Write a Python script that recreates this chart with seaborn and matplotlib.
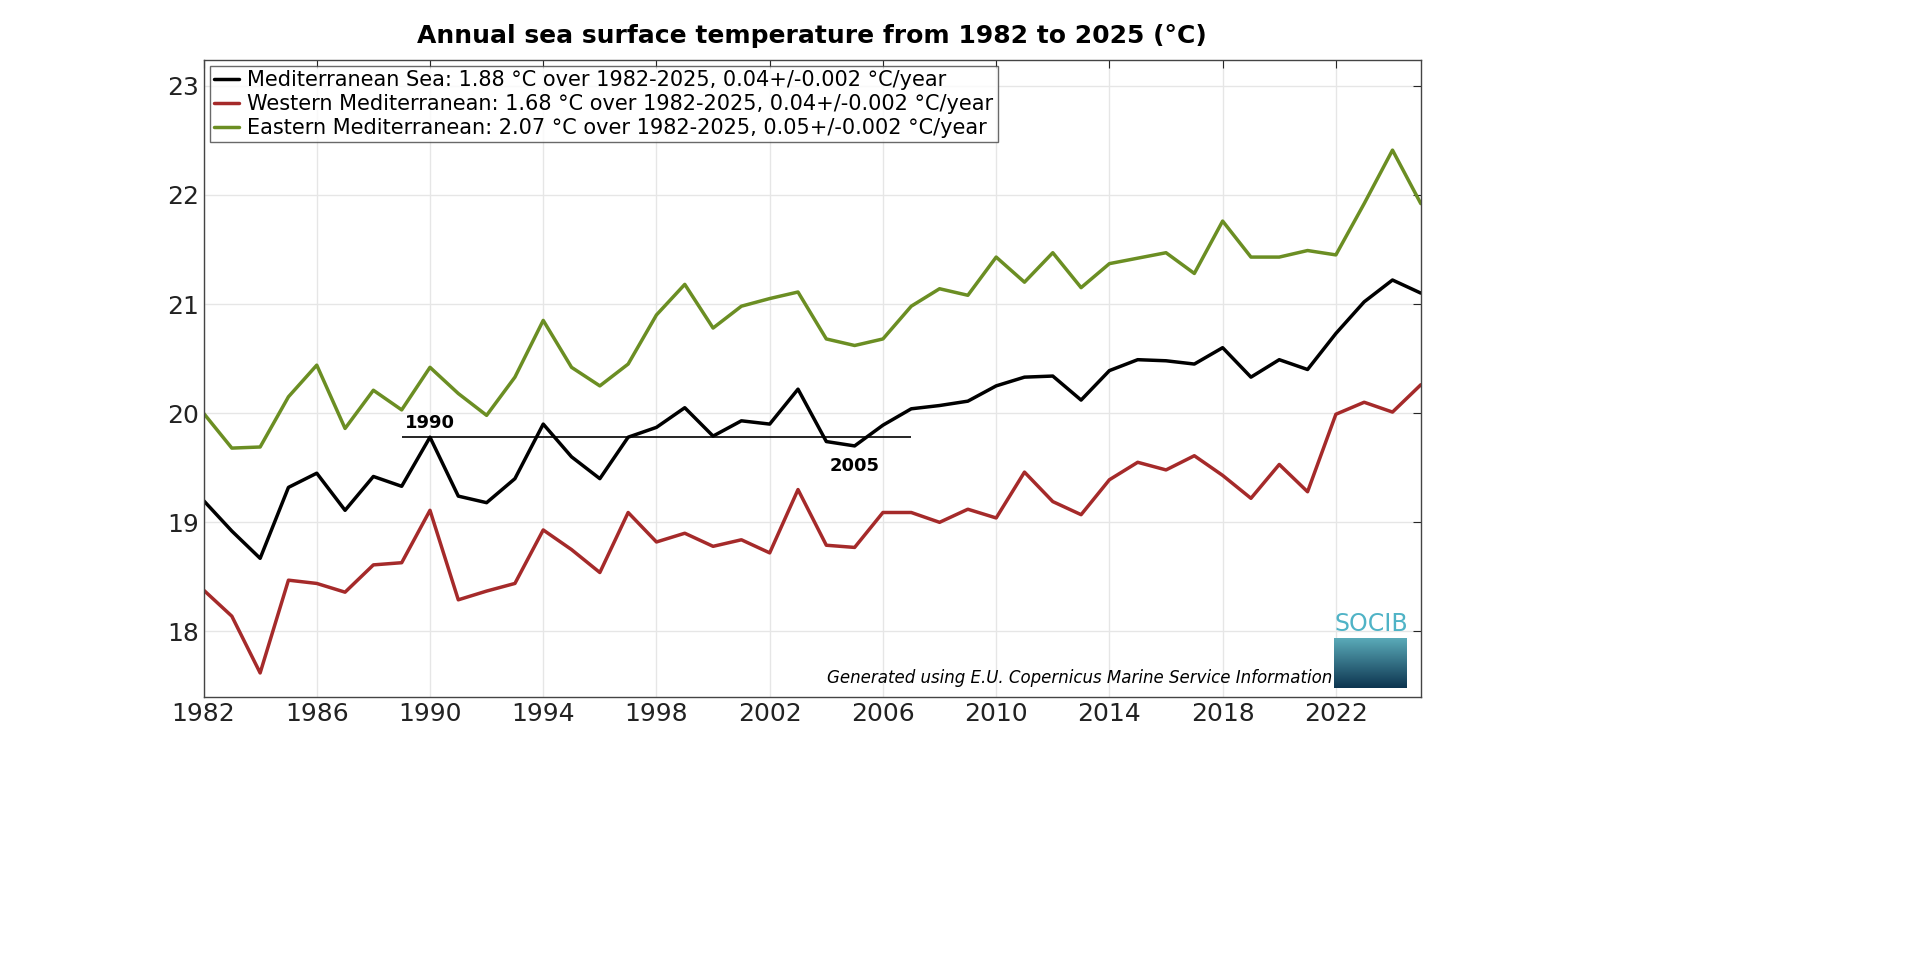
import numpy as np
import pandas as pd
import seaborn as sns
import matplotlib.pyplot as plt

years = list(range(1982, 2026))
med = [19.2, 18.92, 18.67, 19.32, 19.45, 19.11, 19.42, 19.33, 19.78, 19.24, 19.18, 19.4, 19.9, 19.6,
       19.4, 19.78, 19.87, 20.05, 19.79, 19.93, 19.9, 20.22, 19.74, 19.7, 19.89, 20.04, 20.07, 20.11,
       20.25, 20.33, 20.34, 20.12, 20.39, 20.49, 20.48, 20.45, 20.6, 20.33, 20.49, 20.4, 20.73, 21.02,
       21.22, 21.1]
west = [18.38, 18.14, 17.62, 18.47, 18.44, 18.36, 18.61, 18.63, 19.11, 18.29, 18.37, 18.44, 18.93, 18.75,
        18.54, 19.09, 18.82, 18.9, 18.78, 18.84, 18.72, 19.3, 18.79, 18.77, 19.09, 19.09, 19.0, 19.12,
        19.04, 19.46, 19.19, 19.07, 19.39, 19.55, 19.48, 19.61, 19.43, 19.22, 19.53, 19.28, 19.99, 20.1,
        20.01, 20.26]
east = [20.0, 19.68, 19.69, 20.15, 20.44, 19.86, 20.21, 20.03, 20.42, 20.18, 19.98, 20.33, 20.85, 20.42,
        20.25, 20.45, 20.9, 21.18, 20.78, 20.98, 21.05, 21.11, 20.68, 20.62, 20.68, 20.98, 21.14, 21.08,
        21.43, 21.2, 21.47, 21.15, 21.37, 21.42, 21.47, 21.28, 21.76, 21.43, 21.43, 21.49, 21.45, 21.92,
        22.41, 21.92]
labels = ['Mediterranean Sea: 1.88 °C over 1982-2025, 0.04+/-0.002 °C/year',
          'Western Mediterranean: 1.68 °C over 1982-2025, 0.04+/-0.002 °C/year',
          'Eastern Mediterranean: 2.07 °C over 1982-2025, 0.05+/-0.002 °C/year']
colors = ['black', '#a52a2a', '#6b8e23']

sns.set_style('white')
plt.rcParams['font.family'] = ['DejaVu Sans']
plt.rcParams['text.color'] = 'black'

fig = plt.figure(figsize=(19.2, 9.6), dpi=100)
ax = fig.add_axes([0.106, 0.274, 0.634, 0.664])

for vals, lab, c in zip([med, west, east], labels, colors):
    sns.lineplot(x=years, y=vals, ax=ax, color=c, lw=2.5, label=lab)

# reference line 1990-2005 level
ax.hlines(med[years.index(1990)], 1989, 2007, color='black', lw=1.2)
ax.text(1990, 19.83, '1990', fontsize=13, fontweight='bold', ha='center', va='bottom')
ax.text(2005, 19.6, '2005', fontsize=13, fontweight='bold', ha='center', va='top')

ax.set_xlim(1982, 2025)
ax.set_ylim(17.4, 23.24)
ax.set_xticks(range(1982, 2026, 4))
ax.set_yticks([18, 19, 20, 21, 22, 23])
ax.tick_params(labelsize=18, direction='in', length=6, right=True, top=True, labelcolor='#222222')
ax.grid(True, color='#e6e6e6', lw=1)
for s in ax.spines.values():
    s.set_color('#444444')
    s.set_linewidth(1)
ax.set_title('Annual sea surface temperature from 1982 to 2025 (°C)', fontsize=18, fontweight='bold',
             pad=12, color='black')
leg = ax.legend(loc='upper left', fontsize=15, frameon=True, fancybox=False, borderaxespad=0.3,
                handlelength=1.2, handletextpad=0.4, labelspacing=0.2, borderpad=0.2)
leg.get_frame().set_edgecolor('#444444')
ax.text(0.927, 0.015, 'Generated using E.U. Copernicus Marine Service Information', transform=ax.transAxes,
        fontsize=12, style='italic', ha='right', va='bottom')

# logo
lax = fig.add_axes([0.695, 0.283, 0.038, 0.052])
grad = np.linspace(0, 1, 100).reshape(-1, 1)
lax.imshow(grad, aspect='auto', cmap=sns.blend_palette(['#5aaab8', '#0d3550'], as_cmap=True))
lax.axis('off')
fig.text(0.714, 0.337, 'SOCIB', color='#4fb3c6', fontsize=17, ha='center', va='bottom')

fig.savefig('out.png', dpi=100)
